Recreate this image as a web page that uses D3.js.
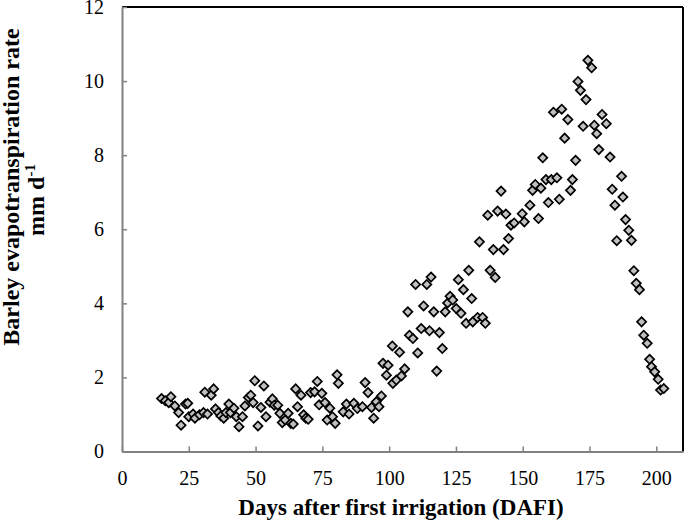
<!DOCTYPE html>
<html>
<head>
<meta charset="utf-8">
<script src="https://cdn.jsdelivr.net/npm/d3@7"></script>
<style>
  body { margin: 0; background: #fff; }
  svg text { font-family: "Liberation Serif", "Times New Roman", serif; fill: #000; }
</style>
</head>
<body>
<svg id="chart" width="685" height="520"></svg>
<script>
// days after first irrigation
var days = [14.8, 16.2, 17.5, 18.3, 19.8, 21.2, 22.1, 23.8, 24.6, 25.0, 26.6, 27.3, 29.0, 30.5, 31.0, 32.0,
    33.4, 34.3, 35.0, 36.1, 37.0, 38.1, 38.9, 40.0, 40.6, 41.9, 42.8, 43.8, 45.1, 46.0, 47.3, 48.2, 49.1, 49.7,
    50.9, 52.0, 53.1, 53.9, 55.4, 56.3, 57.0, 58.3, 59.1, 60.0, 61.1, 62.2, 63.2, 64.1, 65.0, 65.7, 67.0, 68.0,
    68.8, 69.7, 70.6, 72.1, 73.1, 73.8, 74.8, 76.0, 76.8, 77.8, 78.8, 79.8, 80.5, 81.0,
    82.8, 84.0, 85.0, 86.8, 88.1, 90.0, 91.0, 92.1, 93.4, 94.2, 95.2, 96.2, 97.1, 97.7, 99.0, 99.6,
    101.4, 101.2, 102.7, 103.9, 104.6, 105.8, 107.0, 107.6, 108.9, 109.9, 110.7, 112.0, 112.9, 114.1, 115.1,
    115.7, 116.7, 117.8, 118.8, 119.9, 121.0, 121.9, 122.8, 123.8, 125.1, 125.9, 126.9, 127.8, 128.8, 129.8,
    130.9, 131.3, 133.1, 133.8, 135.0, 136.0, 136.9, 137.8, 139.0, 139.7, 140.6, 141.9, 142.8, 143.7, 144.7,
    145.6, 146.8,
    149.8, 150.6, 152.7, 153.7, 154.7, 155.9, 156.8, 157.5, 158.7, 159.6, 160.7, 161.5, 162.8, 163.7, 164.6,
    165.7, 166.9, 167.9, 168.6, 169.8, 170.7, 171.6, 172.6, 173.7, 174.4, 175.8, 176.8, 177.7, 178.5, 179.7,
    181.3, 182.7, 183.5, 184.5, 185.2,
    187.0, 187.5, 188.5, 189.7, 190.7, 191.6, 192.5, 193.7, 194.5, 195.3, 196.6, 197.5, 198.2, 199.4, 200.7,
    201.6, 202.8];

// barley ET rate (mm/day)
var etRates = [1.43, 1.37, 1.32, 1.48, 1.23, 1.05, 0.71, 1.28, 1.30, 0.94, 1.01, 0.90, 0.99, 1.05, 1.60, 1.01,
    1.52, 1.69, 1.15, 1.05, 0.96, 0.90, 1.05, 1.28, 1.05, 1.17, 0.94, 0.67, 0.94, 1.23, 1.46, 1.52, 1.32, 1.91,
    0.69, 1.19, 1.77, 0.94, 1.33, 1.42, 1.25, 1.25, 1.03, 0.78, 0.85, 1.03, 0.76, 0.74, 1.69, 1.21, 1.52, 0.99,
    0.90, 0.87, 1.59, 1.61, 1.89, 1.26, 1.57, 1.32, 0.85, 1.17, 0.94, 0.76, 2.07, 1.84,
    1.07, 1.28, 1.01, 1.30, 1.16, 1.21, 1.86, 1.59, 1.19, 0.90, 1.34, 1.21, 1.50, 2.38, 2.06, 2.33,
    1.84, 2.85, 1.93, 2.68, 2.04, 2.23, 3.77, 3.14, 3.05, 4.51, 2.66, 3.32, 3.93, 4.51, 3.26,
    4.71, 3.77, 2.17, 3.21, 2.78, 3.77, 4.01, 4.19, 4.09, 3.86, 4.64, 3.73, 4.37, 3.46, 4.89,
    4.13, 3.50, 3.62, 5.66, 3.62, 3.46, 6.38, 4.89, 5.45, 4.70, 6.49, 7.03, 5.45, 6.41, 5.75,
    6.11, 6.17,
    6.42, 6.20, 6.65, 7.05, 7.21, 6.29, 7.11, 7.93, 7.34, 6.72, 7.34, 9.16, 7.39, 6.81, 9.24,
    8.46, 8.96, 7.05, 7.34, 7.86, 9.99, 9.75, 8.78, 9.50, 10.56, 10.36, 8.81, 8.58, 8.15, 9.10,
    8.85, 7.95, 7.08, 6.65, 5.69,
    7.43, 6.87, 6.26, 5.97, 5.70, 4.88, 4.54, 4.37, 3.50, 3.14, 2.92, 2.49, 2.29, 2.15, 1.95,
    1.66, 1.70];

var xTicks = [0, 25, 50, 75, 100, 125, 150, 175, 200];
var yTicks = [0, 2, 4, 6, 8, 10, 12];

var svg = d3.select("#chart");
var plotLeft = 122, plotRight = 683, plotTop = 7, plotBottom = 451.5;

var x = d3.scaleLinear().domain([0, 210]).range([plotLeft, plotRight]);
var y = d3.scaleLinear().domain([0, 12]).range([plotBottom, plotTop]);

// top and right frame lines (black)
svg.append("line").attr("x1", plotLeft).attr("x2", plotRight).attr("y1", plotTop).attr("y2", plotTop)
    .attr("stroke", "#000").attr("stroke-width", 2);
svg.append("line").attr("x1", plotRight).attr("x2", plotRight).attr("y1", plotTop).attr("y2", plotBottom)
    .attr("stroke", "#000").attr("stroke-width", 2);

var xAxis = svg.append("g").attr("transform", "translate(0," + plotBottom + ")")
    .call(d3.axisBottom(x).tickValues(xTicks).tickSizeInner(-5).tickSizeOuter(0).tickPadding(19));
var yAxis = svg.append("g").attr("transform", "translate(" + plotLeft + ",0)")
    .call(d3.axisLeft(y).tickValues(yTicks).tickSizeInner(-5).tickSizeOuter(0).tickPadding(18));

[xAxis, yAxis].forEach(function(axis){
    axis.select(".domain").attr("stroke", "#808080").attr("stroke-width", 2);
    axis.selectAll(".tick line").attr("stroke", "#808080").attr("stroke-width", 1.5);
    axis.selectAll(".tick text").attr("font-family", "Liberation Serif, serif").attr("font-size", 20).attr("fill", "#000");
});

// points
var diamond = d3.symbol().type(d3.symbolSquare).size(42);
svg.append("g").selectAll("path").data(days).enter()
    .append("path")
    .attr("d", diamond)
    .attr("transform", function(d, i){
        return "translate(" + x(d) + "," + y(etRates[i]) + ") rotate(45)";
    })
    .attr("fill", "#c0c0c0")
    .attr("stroke", "#000")
    .attr("stroke-width", 1.7);

// axis titles
svg.append("text").attr("x", 401).attr("y", 515).attr("text-anchor", "middle")
    .attr("font-size", 23).attr("font-weight", "bold")
    .text("Days after first irrigation (DAFI)");

var yTitle = svg.append("text").attr("transform", "rotate(-90)")
    .attr("text-anchor", "middle").attr("font-size", 24).attr("font-weight", "bold");
yTitle.append("tspan").attr("x", -187).attr("y", 19).text("Barley evapotranspiration rate");
yTitle.append("tspan").attr("x", -200).attr("y", 44).text("mm d");
yTitle.append("tspan").attr("dy", -9).attr("font-size", 15).text("-1");
</script>
</body>
</html>
